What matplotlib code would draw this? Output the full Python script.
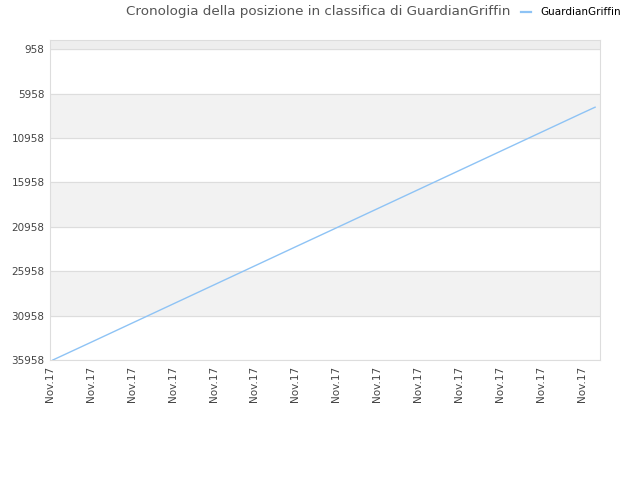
import matplotlib
matplotlib.use("Agg")
import matplotlib.pyplot as plt

# data (x in tick units, y = rank)
days = [0.07, 1.0, 2.0, 3.0, 4.0, 5.0, 6.0, 7.0, 8.0, 9.0, 10.0, 11.0, 12.0, 13.0, 13.33]
ranks = [35958, 33970, 31820, 29670, 27520, 25370, 23220, 21080, 18930, 16780,
         14630, 12480, 10330, 8180, 7480]
tick_labels = ["Nov.17"] * 14
y_ticks = [958, 5958, 10958, 15958, 20958, 25958, 30958, 35958]

fig = plt.figure(figsize=(6.4, 4.8), dpi=100)
ax = fig.add_axes([50 / 640, 1 - 360 / 480, 550 / 640, 320 / 480])

ax.set_xlim(0, 13.45)
ax.set_ylim(35958, -90)

# background bands
ax.axhspan(-90, 958, color="#eeeeee", zorder=0)
for i in range(len(y_ticks) - 1):
    if i % 2 == 1:
        ax.axhspan(y_ticks[i], y_ticks[i + 1], color="#f2f2f2", zorder=0)
for yv in y_ticks:
    ax.axhline(yv, color="#dddddd", lw=0.8, zorder=1)

ax.plot(days, ranks, color="#8ec3f5", lw=1.0, zorder=3, label="GuardianGriffin")

ax.set_yticks(y_ticks)
ax.set_yticklabels([str(v) for v in y_ticks])
ax.set_xticks(range(len(tick_labels)))
ax.set_xticklabels(tick_labels, rotation=90)
ax.tick_params(axis="both", length=0, labelsize=7.5, colors="#444444", pad=4)

for s in ax.spines.values():
    s.set_color("#dddddd")
    s.set_linewidth(0.8)

fig.text(0.497, 0.975, "Cronologia della posizione in classifica di GuardianGriffin",
         ha="center", va="center", fontsize=9.7, color="#555555")
leg = fig.legend(loc="center left", bbox_to_anchor=(0.80, 0.974), frameon=False,
                 fontsize=7.5, handlelength=0.9, handletextpad=0.9)
for h in leg.get_lines():
    h.set_linewidth(1.6)

fig.savefig("out.png", dpi=100)
